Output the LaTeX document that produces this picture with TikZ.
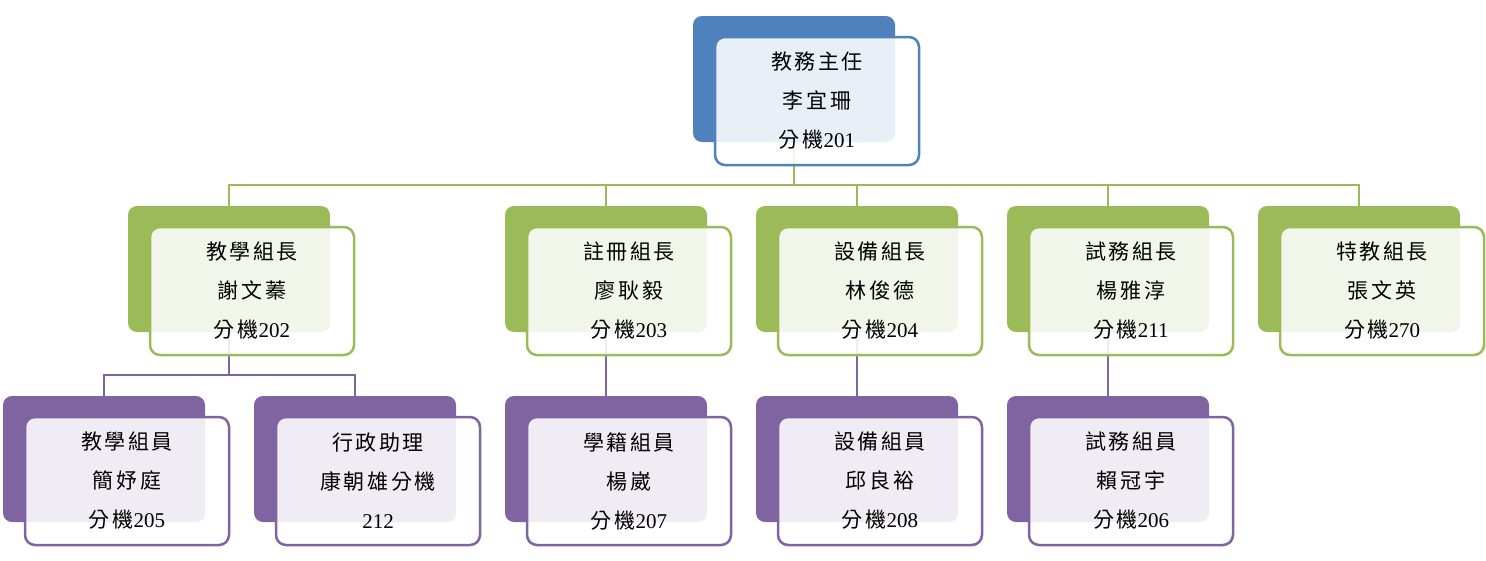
\documentclass[tikz,border=0pt]{standalone}
\usepackage{fontspec}
\setmainfont{Liberation Serif}
\newfontfamily\cjk[LetterSpace=12]{Noto Sans CJK TC}
\usetikzlibrary{backgrounds}
\definecolor{chblue}{HTML}{4F81BD}
\definecolor{chgreen}{HTML}{9BBB59}
\definecolor{chpurple}{HTML}{8064A2}
\newcommand{\ext}[1]{分機{\rmfamily #1}}
\tikzset{
  backbox/.style={rectangle, rounded corners=9pt, minimum width=202pt,
    minimum height=126pt, inner sep=0pt, fill=#1},
  frontbox/.style={rectangle, rounded corners=10pt, minimum width=204pt,
    minimum height=128pt, inner sep=0pt, draw=#1, line width=2.5pt,
    fill=white, fill opacity=0.88, text opacity=1, align=center,
    font=\cjk\fontsize{21}{39}\selectfont},
  link/.style={line width=2.5pt, draw=#1}
}
\begin{document}
\begin{tikzpicture}[x=1pt, y=-1pt]
  \useasboundingbox (0,0) rectangle (1486,560);
  % head
  \node[backbox=chblue] (headb) at (794,79) {};
  \node[frontbox=chblue] (head) at (817,101) {教務主任\\李宜珊\\\ext{201}};
  % group leaders
  \node[backbox=chgreen] (g1b) at (229,269) {};
  \node[frontbox=chgreen] (g1) at (252,291) {教學組長\\謝文蓁\\\ext{202}};
  \node[backbox=chgreen] (g2b) at (606,269) {};
  \node[frontbox=chgreen] (g2) at (629,291) {註冊組長\\廖耿毅\\\ext{203}};
  \node[backbox=chgreen] (g3b) at (857,269) {};
  \node[frontbox=chgreen] (g3) at (880,291) {設備組長\\林俊德\\\ext{204}};
  \node[backbox=chgreen] (g4b) at (1108,269) {};
  \node[frontbox=chgreen] (g4) at (1131,291) {試務組長\\楊雅淳\\\ext{211}};
  \node[backbox=chgreen] (g5b) at (1359,269) {};
  \node[frontbox=chgreen] (g5) at (1382,291) {特教組長\\張文英\\\ext{270}};
  % staff
  \node[backbox=chpurple] (p1b) at (104,459) {};
  \node[frontbox=chpurple] (p1) at (127,481) {教學組員\\簡妤庭\\\ext{205}};
  \node[backbox=chpurple] (p2b) at (355,459) {};
  \node[frontbox=chpurple] (p2) at (378,481) {行政助理\\康朝雄分機\\{\rmfamily 212}};
  \node[backbox=chpurple] (p3b) at (606,459) {};
  \node[frontbox=chpurple] (p3) at (629,481) {學籍組員\\楊崴\\\ext{207}};
  \node[backbox=chpurple] (p4b) at (857,459) {};
  \node[frontbox=chpurple] (p4) at (880,481) {設備組員\\邱良裕\\\ext{208}};
  \node[backbox=chpurple] (p5b) at (1108,459) {};
  \node[frontbox=chpurple] (p5) at (1131,481) {試務組員\\賴冠宇\\\ext{206}};
  % connectors
  \begin{pgfonlayer}{background}
    \coordinate (bus) at (794,185);
    \coordinate (pbus) at (229,375);
    \draw[link=chgreen] (headb.south) -- (bus);
    \foreach \g in {g1b,g2b,g3b,g4b,g5b}
      \draw[link=chgreen] (bus) -| (\g.north);
    \draw[link=chpurple] (g1b.south) -- (pbus);
    \draw[link=chpurple] (pbus) -| (p1b.north);
    \draw[link=chpurple] (pbus) -| (p2b.north);
    \draw[link=chpurple] (g2b.south) -- (p3b.north);
    \draw[link=chpurple] (g3b.south) -- (p4b.north);
    \draw[link=chpurple] (g4b.south) -- (p5b.north);
  \end{pgfonlayer}
\end{tikzpicture}
\end{document}
